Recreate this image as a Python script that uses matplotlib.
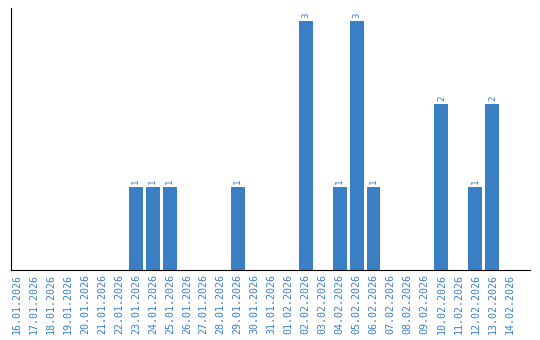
import matplotlib
matplotlib.use("Agg")
import matplotlib.pyplot as plt
import numpy as np

dates = ["16.01.2026", "17.01.2026", "18.01.2026", "19.01.2026", "20.01.2026",
         "21.01.2026", "22.01.2026", "23.01.2026", "24.01.2026", "25.01.2026",
         "26.01.2026", "27.01.2026", "28.01.2026", "29.01.2026", "30.01.2026",
         "31.01.2026", "01.02.2026", "02.02.2026", "03.02.2026", "04.02.2026",
         "05.02.2026", "06.02.2026", "07.02.2026", "08.02.2026", "09.02.2026",
         "10.02.2026", "11.02.2026", "12.02.2026", "13.02.2026", "14.02.2026"]
counts = [0, 0, 0, 0, 0, 0, 0, 1, 1, 1,
          0, 0, 0, 1, 0, 0, 0, 3, 0, 1,
          3, 1, 0, 0, 0, 2, 0, 1, 2, 0]

blue = '#3a7fc4'

fig = plt.figure(figsize=(5.4, 3.4), dpi=100)
ax = fig.add_axes([0.0204, 0.206, 0.9606, 0.770])

x = np.arange(len(dates))
ax.bar(x, counts, width=0.82, color=blue)

# value labels above the non-empty bars
for i, v in enumerate(counts):
    if v > 0:
        ax.text(i, v + 0.03, str(v), rotation=90, ha='center', va='bottom',
                color=blue, fontsize=6.5, family='DejaVu Sans Mono')

ax.set_xlim(-0.35, 30.2)
ax.set_ylim(0, 3.15)
ax.set_xticks(x)
ax.set_xticklabels(dates, rotation=90, color=blue, fontsize=7.2,
                   family='DejaVu Sans Mono')
ax.tick_params(axis='x', length=0, pad=3)
ax.set_yticks([])
ax.spines['top'].set_visible(False)
ax.spines['right'].set_visible(False)

fig.savefig('out.png', dpi=100)
